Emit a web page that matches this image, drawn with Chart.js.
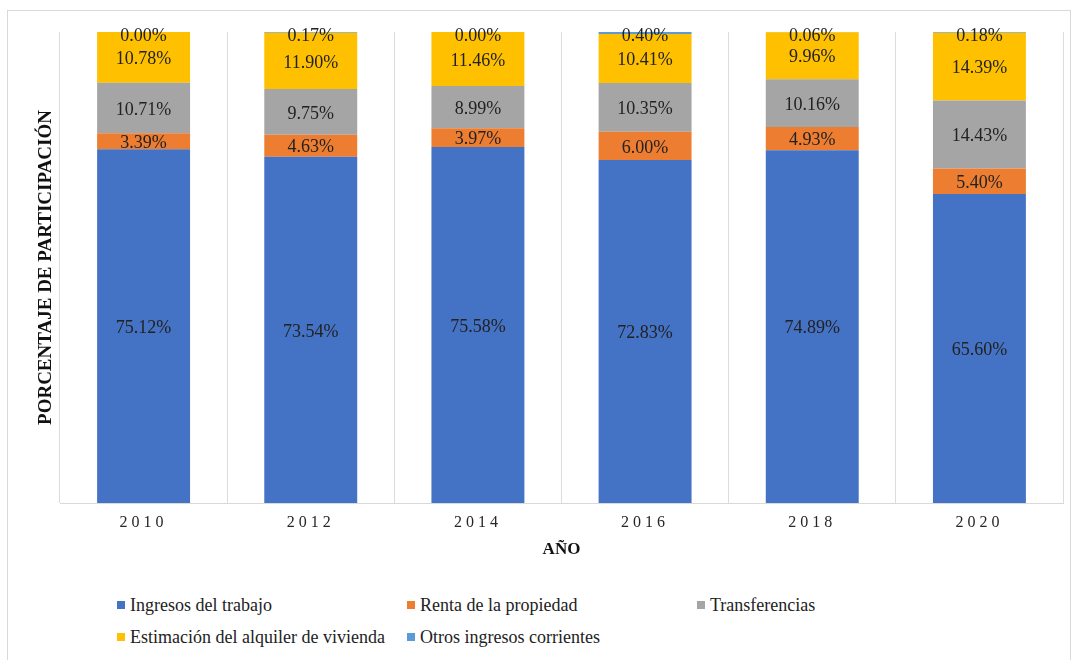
<!DOCTYPE html>
<html>
<head>
<meta charset="utf-8">
<script src="https://cdn.jsdelivr.net/npm/chart.js@4.4.1/dist/chart.umd.min.js"></script>
<style>
html,body{margin:0;padding:0;background:#fff;}
body{width:1074px;height:660px;position:relative;overflow:hidden;font-family:"Liberation Serif","Times New Roman",serif;}
#frame{position:absolute;left:7px;top:10px;width:1064px;height:660px;border:1px solid #d9d9d9;box-sizing:border-box;}
#wrap{position:absolute;left:0;top:0;width:1074px;height:575px;}
#legend{position:absolute;left:117px;top:589px;display:grid;grid-template-columns:290px 290px 290px;}
.item{height:32px;display:flex;align-items:center;font-size:18px;color:#222;white-space:nowrap;}
.sw{width:8px;height:8px;margin-right:5px;flex:none;}
</style>
</head>
<body>
<div id="frame"></div>
<div id="wrap"><canvas id="c" width="1074" height="575" style="width:1074px;height:575px;display:block;"></canvas></div>
<div id="legend"></div>
<script>
// ---- data ----
const years = ['2010', '2012', '2014', '2016', '2018', '2020'];
const ingresosTrabajo = [75.12, 73.54, 75.58, 72.83, 74.89, 65.60];
const rentaPropiedad = [3.39, 4.63, 3.97, 6.00, 4.93, 5.40];
const transferencias = [10.71, 9.75, 8.99, 10.35, 10.16, 14.43];
const alquilerVivienda = [10.78, 11.90, 11.46, 10.41, 9.96, 14.39];
const otrosIngresos = [0.00, 0.17, 0.00, 0.40, 0.06, 0.18];
const seriesNames = ['Ingresos del trabajo', 'Renta de la propiedad', 'Transferencias', 'Estimación del alquiler de vivienda', 'Otros ingresos corrientes'];
const seriesColors = ['#4472C4', '#ED7D31', '#A5A5A5', '#FFC000', '#5B9BD5'];
const xTitle = 'AÑO';
const yTitle = 'PORCENTAJE DE PARTICIPACIÓN';

const FAMILY = '"Liberation Serif", "Times New Roman", serif';

class SpacedCategoryScale extends Chart.CategoryScale {
  drawLabels(chartArea) {
    const ctx = this.ctx;
    ctx.save();
    ctx.letterSpacing = '4px';
    super.drawLabels(chartArea);
    ctx.restore();
  }
}
SpacedCategoryScale.id = 'spacedCategory';
SpacedCategoryScale.defaults = Chart.CategoryScale.defaults;
Chart.register(SpacedCategoryScale);

const segmentLabels = {
  id: 'segmentLabels',
  afterDatasetsDraw(chart) {
    const ctx = chart.ctx;
    ctx.save();
    ctx.font = '18px ' + FAMILY;
    ctx.fillStyle = '#222';
    ctx.textAlign = 'center';
    ctx.textBaseline = 'middle';
    chart.data.datasets.forEach((ds, i) => {
      const meta = chart.getDatasetMeta(i);
      meta.data.forEach((bar, j) => {
        const p = bar.getProps(['x', 'y', 'base'], true);
        const top = Math.min(p.y, p.base);
        const mid = (p.y + p.base) / 2;
        const ly = Math.max(mid, top + 2) + 2;
        ctx.fillText(ds.data[j].toFixed(2) + '%', p.x, ly);
      });
    });
    ctx.restore();
  }
};

const seriesData = [ingresosTrabajo, rentaPropiedad, transferencias, alquilerVivienda, otrosIngresos];

const chart = new Chart(document.getElementById('c'), {
  type: 'bar',
  data: {
    labels: years,
    datasets: seriesData.map((d, i) => ({
      label: seriesNames[i],
      data: d,
      backgroundColor: seriesColors[i],
      borderWidth: 0,
      barPercentage: 0.556,
      categoryPercentage: 1
    }))
  },
  options: {
    responsive: false,
    animation: false,
    layout: { padding: { left: 0, top: 32, right: 11, bottom: 15 } },
    plugins: {
      legend: { display: false },
      tooltip: { enabled: false },
      title: { display: false }
    },
    scales: {
      x: {
        type: 'spacedCategory',
        stacked: true,
        offset: true,
        grid: { display: true, offset: true, drawTicks: false, color: '#dcdcdc', lineWidth: 1 },
        border: { display: true, color: '#d9d9d9' },
        ticks: { padding: 10, color: '#262626', font: { family: FAMILY, size: 16 } },
        title: { display: true, text: xTitle, color: '#111', font: { family: FAMILY, size: 17, weight: 'bold' }, padding: { top: 0, bottom: 0 } },
        afterFit(s) { s.height = 57; }
      },
      y: {
        stacked: true,
        min: 0,
        max: 100,
        grid: { display: false },
        border: { display: false },
        ticks: { display: false },
        title: { display: true, text: yTitle, color: '#111', font: { family: FAMILY, size: 19, weight: 'bold' }, padding: { top: 34.6, bottom: 0 } },
        afterFit(s) { s.width = 60; }
      }
    }
  },
  plugins: [segmentLabels]
});

// HTML legend built from the chart's datasets
const legendEl = document.getElementById('legend');
chart.data.datasets.forEach(ds => {
  const item = document.createElement('div');
  item.className = 'item';
  const sw = document.createElement('span');
  sw.className = 'sw';
  sw.style.background = ds.backgroundColor;
  const tx = document.createElement('span');
  tx.textContent = ds.label;
  item.appendChild(sw);
  item.appendChild(tx);
  legendEl.appendChild(item);
});
</script>
</body>
</html>
